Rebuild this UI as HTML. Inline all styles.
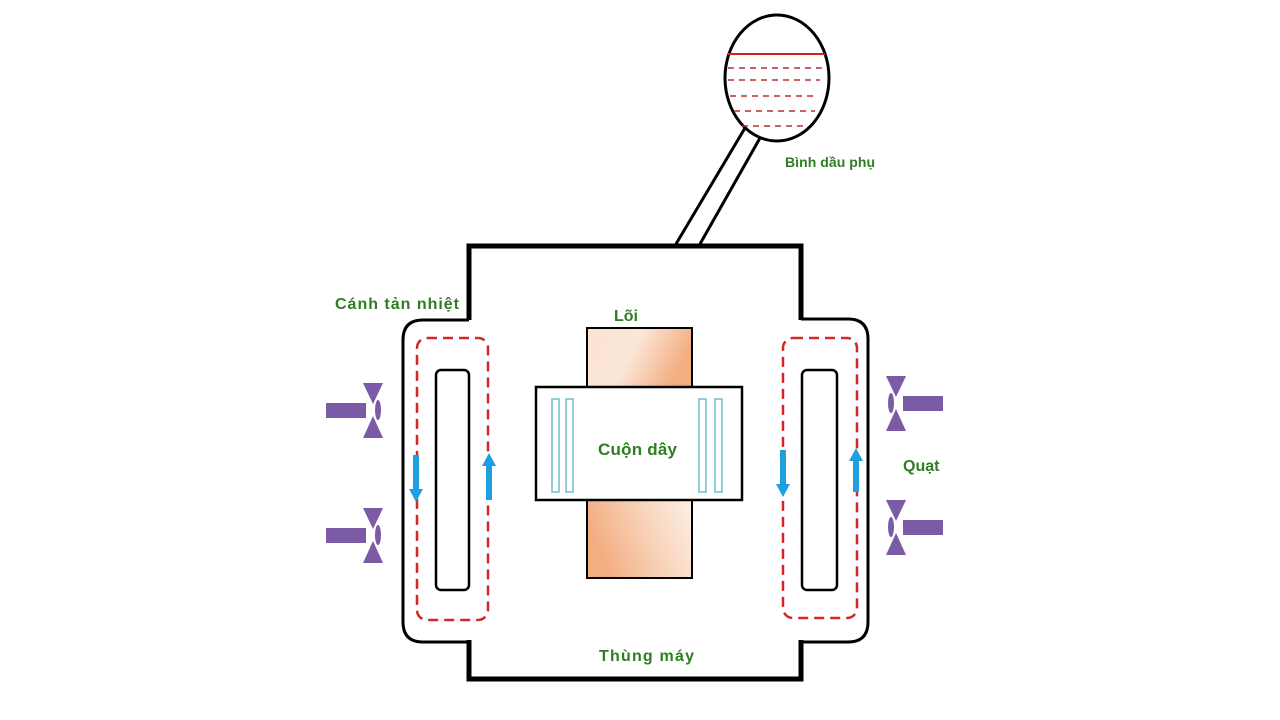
<!DOCTYPE html>
<html><head><meta charset="utf-8"><style>
html,body{margin:0;padding:0;background:#fff;}
svg{display:block;}
text{font-family:"Liberation Sans",sans-serif;font-weight:bold;fill:#2e7d22;}
</style></head><body>
<svg width="1280" height="720" viewBox="0 0 1280 720" xmlns="http://www.w3.org/2000/svg">
<defs>
<linearGradient id="g1" x1="0" y1="0" x2="1" y2="0.3">
<stop offset="0" stop-color="#fbe3d2"/><stop offset="0.5" stop-color="#fbe6d8"/><stop offset="1" stop-color="#f2ad80"/>
</linearGradient>
<linearGradient id="g2" x1="0" y1="0.3" x2="1" y2="0">
<stop offset="0" stop-color="#f2ad80"/><stop offset="0.5" stop-color="#f8d2b8"/><stop offset="1" stop-color="#fdf0e6"/>
</linearGradient>
<g id="fan" fill="#7b5aa6">
<rect x="0" y="-7" width="40" height="15"/>
<polygon points="37,-27 57,-27 47,-6"/>
<polygon points="37,28 57,28 47,6"/>
<ellipse cx="52" cy="0" rx="3" ry="10"/>
</g>
</defs>
<line x1="676" y1="244" x2="745" y2="128" stroke="#000" stroke-width="3"/>
<line x1="700" y1="244" x2="760" y2="138" stroke="#000" stroke-width="3"/>
<ellipse cx="777" cy="78" rx="52" ry="63" fill="#fff" stroke="#000" stroke-width="3"/>
<line x1="728" y1="54" x2="825" y2="54" stroke="#d42020" stroke-width="2"/>
<g stroke="#b03030" stroke-width="1.5" stroke-dasharray="6,5">
<line x1="728" y1="68" x2="822" y2="68"/>
<line x1="728" y1="80" x2="820" y2="80"/>
<line x1="730" y1="96" x2="818" y2="96"/>
<line x1="734" y1="111" x2="815" y2="111"/>
<line x1="742" y1="126" x2="808" y2="126"/>
</g>
<path d="M469,320 V246 H801 V320 M801,640 V679 H469 V640" fill="none" stroke="#000" stroke-width="5"/>
<path d="M469,320 H423 Q403,320 403,340 V622 Q403,642 423,642 H469" fill="none" stroke="#000" stroke-width="3"/>
<path d="M801,319 H848 Q868,319 868,339 V622 Q868,642 848,642 H801" fill="none" stroke="#000" stroke-width="3"/>
<rect x="436" y="370" width="33" height="220" rx="5" fill="none" stroke="#000" stroke-width="2.5"/>
<rect x="802" y="370" width="35" height="220" rx="5" fill="none" stroke="#000" stroke-width="2.5"/>
<rect x="417" y="338" width="71" height="282" rx="10" fill="none" stroke="#d02828" stroke-width="2.5" stroke-dasharray="10,6"/>
<rect x="783" y="338" width="74" height="280" rx="10" fill="none" stroke="#d02828" stroke-width="2.5" stroke-dasharray="10,6"/>
<g fill="#1ea0e0">
<rect x="413" y="455" width="6" height="35"/><polygon points="409,489 423,489 416,502"/>
<rect x="486" y="465" width="6" height="35"/><polygon points="482,466 496,466 489,453"/>
<rect x="780" y="450" width="6" height="35"/><polygon points="776,484 790,484 783,497"/>
<rect x="853" y="460" width="6" height="32"/><polygon points="849,461 863,461 856,448"/>
</g>
<rect x="587" y="328" width="105" height="60" fill="url(#g1)" stroke="#000" stroke-width="2"/>
<rect x="587" y="500" width="105" height="78" fill="url(#g2)" stroke="#000" stroke-width="2"/>
<rect x="536" y="387" width="206" height="113" fill="#fff" stroke="#000" stroke-width="2.5"/>
<g fill="none" stroke="#6fbfc8" stroke-width="1.5">
<rect x="552" y="399" width="7" height="93"/><rect x="566" y="399" width="7" height="93"/>
<rect x="699" y="399" width="7" height="93"/><rect x="715" y="399" width="7" height="93"/>
</g>
<use href="#fan" transform="translate(326,410)"/>
<use href="#fan" transform="translate(326,535)"/>
<use href="#fan" transform="translate(943,403) scale(-1,1)"/>
<use href="#fan" transform="translate(943,527) scale(-1,1)"/>
<text x="335" y="309" font-size="16" textLength="124">Cánh tản nhiệt</text>
<text x="614" y="321" font-size="16">Lõi</text>
<text x="598" y="455" font-size="17" textLength="79">Cuộn dây</text>
<text x="599" y="661" font-size="16" textLength="95">Thùng máy</text>
<text x="785" y="167" font-size="14" textLength="90">Bình dầu phụ</text>
<text x="903" y="471" font-size="16">Quạt</text>
</svg>
</body></html>
